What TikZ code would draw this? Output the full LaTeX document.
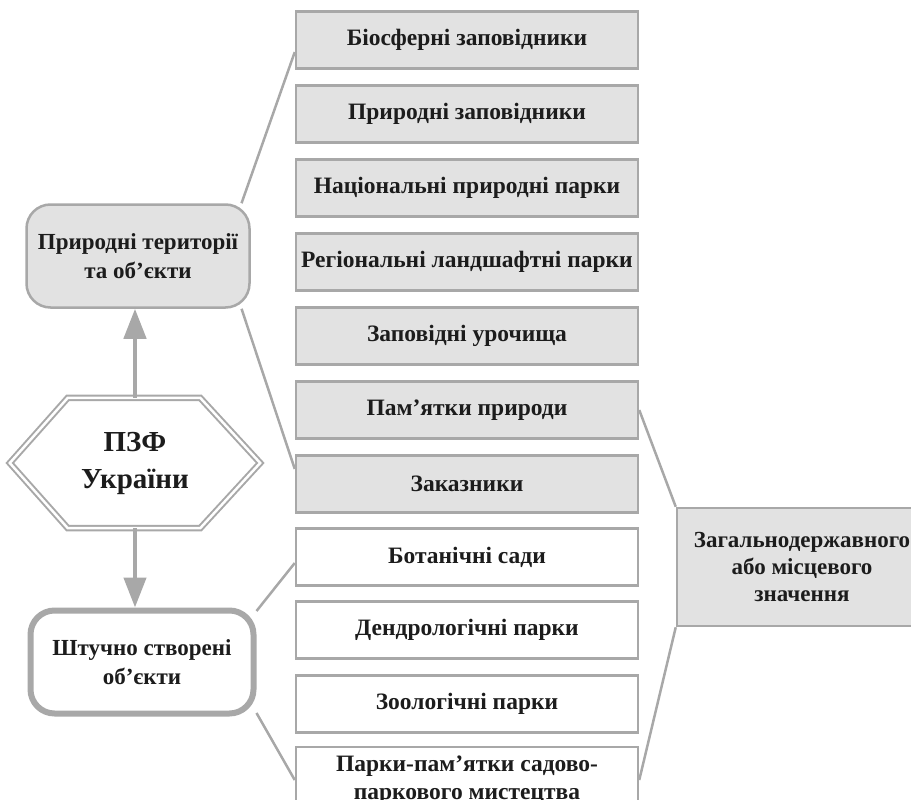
\documentclass[tikz,border=0pt]{standalone}
\usepackage{fontspec}
\setmainfont{Liberation Serif}
\usepackage{tikz}
\usetikzlibrary{arrows.meta,calc}
\definecolor{boxgray}{RGB}{226,226,226}
\definecolor{linegray}{RGB}{168,168,168}
\definecolor{inkblack}{RGB}{28,28,28}

\begin{document}
\begin{tikzpicture}[x=1pt,y=-1pt,
kind/.style={draw=linegray,line width=2.5pt,fill=boxgray,minimum width=342pt,minimum height=57pt,inner xsep=0pt,inner ysep=2pt,text=inkblack,align=center,font=\bfseries\fontsize{23.5}{28}\selectfont},
made/.style={kind,fill=white},
group/.style={kind,rounded corners=24pt,minimum width=223pt,minimum height=103pt,font=\bfseries\fontsize{23}{29}\selectfont},
link/.style={linegray,line width=2.5pt},
pointer/.style={linegray,line width=4.5pt,-{Triangle[length=30pt,width=22pt]}}]
\useasboundingbox (0,0) rectangle (911,800);
% ПЗФ
\node[text=inkblack,align=center,minimum width=250pt,minimum height=130pt,font=\bfseries\fontsize{29}{37}\selectfont] (pzf) at (135,463) {ПЗФ\\України};
\draw[linegray,line width=2pt,double=white,double distance=2.5pt,line join=miter]
  (pzf.west) -- ($(pzf.north west)+(58,0)$) -- ($(pzf.north east)+(-60,0)$) -- (pzf.east)
  -- ($(pzf.south east)+(-60,0)$) -- ($(pzf.south west)+(58,0)$) -- cycle;
% Дві групи
\node[group] (nat) at (138,256) {Природні території\\та об’єкти};
\node[group,fill=white,line width=6pt] (art) at (142,662) {Штучно створені\\об’єкти};
\draw[pointer] (pzf.north) -- (pzf.north |- nat.south);
\draw[pointer] (pzf.south) -- (pzf.south |- art.north);
% Природні
\node[kind] (b1) at (467,40) {Біосферні заповідники};
\node[kind] (b2) at (467,114) {Природні заповідники};
\node[kind] (b3) at (467,188) {Національні природні парки};
\node[kind] (b4) at (467,262) {Регіональні ландшафтні парки};
\node[kind] (b5) at (467,336) {Заповідні урочища};
\node[kind] (b6) at (467,410) {Пам’ятки природи};
\node[kind] (b7) at (467,484) {Заказники};
% Штучні
\node[made] (b8) at (467,557) {Ботанічні сади};
\node[made] (b9) at (467,630) {Дендрологічні парки};
\node[made] (b10) at (467,704) {Зоологічні парки};
\node[made,minimum height=66pt] (b11) at (467,780) {Парки-пам’ятки садово-\\паркового мистецтва};
% Значення
\node[kind,minimum width=250pt,minimum height=118pt,font=\bfseries\fontsize{23}{27}\selectfont] (zbox) at (802,567) {Загальнодержавного\\або місцевого\\значення};
\draw[link] (nat.27) -- (b1.184);
\draw[link] (nat.-27) -- (b7.175);
\draw[link] (art.24) -- (b8.182);
\draw[link] (art.-24) -- (b11.west);
\draw[link] (b6.east) -- (zbox.north west);
\draw[link] (b11.east) -- (zbox.south west);
\end{tikzpicture}
\end{document}
